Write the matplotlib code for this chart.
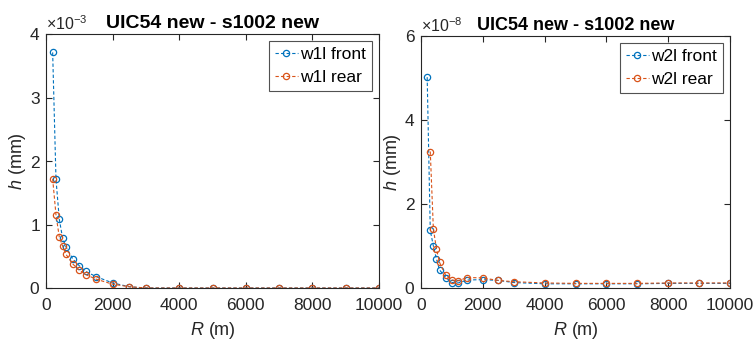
import matplotlib
matplotlib.use("Agg")
import matplotlib.pyplot as plt
import numpy as np
from matplotlib.ticker import ScalarFormatter

plt.rcParams['font.family'] = ['Liberation Sans', 'DejaVu Sans']
plt.rcParams['mathtext.fontset'] = 'custom'
plt.rcParams['mathtext.rm'] = 'Liberation Sans'
plt.rcParams['mathtext.it'] = 'Liberation Sans:italic'

R = [200, 300, 400, 500, 600, 800, 1000, 1200, 1500, 2000, 2500, 3000,
     4000, 5000, 6000, 7000, 8000, 9000, 10000]

# left panel, values in units of 1e-3 mm
w1l_front = [3.71, 1.71, 1.08, 0.78, 0.65, 0.46, 0.35, 0.26, 0.18, 0.08, 0.02, 0.0,
             0.0, 0.0, 0.0, 0.0, 0.0, 0.0, 0.0]
w1l_rear = [1.72, 1.15, 0.80, 0.66, 0.53, 0.38, 0.28, 0.21, 0.14, 0.06, 0.02, 0.0,
            0.0, 0.0, 0.0, 0.0, 0.0, 0.0, 0.0]
# right panel, values in units of 1e-8 mm
w2l_front = [5.02, 1.37, 1.00, 0.69, 0.43, 0.25, 0.13, 0.12, 0.19, 0.20, 0.18, 0.13,
             0.10, 0.10, 0.10, 0.10, 0.11, 0.11, 0.11]
w2l_rear = [np.nan, 3.25, 1.41, 0.93, 0.61, 0.30, 0.19, 0.17, 0.25, 0.24, 0.18, 0.15,
            0.12, 0.11, 0.11, 0.11, 0.12, 0.12, 0.12]

scale_left = 1e-3
scale_right = 1e-8
title = "UIC54 new - s1002 new"
blue = "#0072BD"
orange = "#D95319"

fig = plt.figure(figsize=(7.53, 3.45), dpi=100)
W, H = 753, 345
axL = fig.add_axes([46 / W, 1 - 288 / H, (379 - 46) / W, (288 - 34) / H])
axR = fig.add_axes([421 / W, 1 - 288 / H, (730 - 421) / W, (288 - 36) / H])

def draw(ax, front, rear, scale, lf, lr, ymax, yticks, tsize):
    f = np.array(front, dtype=float) * scale
    r = np.array(rear, dtype=float) * scale
    kw = dict(ls='--', lw=0.8, marker='o', ms=4.5, mfc='none', mew=0.9, dashes=(3, 2))
    ax.plot(R, f, color=blue, label=lf, **kw)
    ax.plot(R, r, color=orange, label=lr, **kw)
    ax.set_xlim(0, 10000)
    ax.set_ylim(0, ymax)
    ax.set_xticks([0, 2000, 4000, 6000, 8000, 10000])
    ax.set_yticks(np.array(yticks) * scale)
    fmt = ScalarFormatter(useMathText=True)
    fmt.set_powerlimits((0, 0))
    ax.yaxis.set_major_formatter(fmt)
    ax.yaxis.get_offset_text().set_fontsize(11.5)
    ax.yaxis.get_offset_text().set_color('#262626')
    ax.tick_params(direction='in', top=True, right=True, labelsize=12.5,
                   colors='#262626', length=4, width=0.8)
    ax.tick_params(axis='x', pad=7)
    ax.tick_params(axis='y', pad=4)
    for s in ax.spines.values():
        s.set_linewidth(0.8)
        s.set_color('#262626')
    ax.set_title(title, fontsize=tsize, fontweight='bold', pad=4)
    ax.set_xlabel(r'$\mathit{R}$ (m)', fontsize=13, color='#262626', labelpad=5)
    ax.set_ylabel(r'$\mathit{h}$ (mm)', fontsize=13, color='#262626', labelpad=1)
    leg = ax.legend(loc='upper right', fontsize=12.5, frameon=True, fancybox=False,
                    edgecolor='#262626', handlelength=1.3, handletextpad=0.15,
                    borderpad=0.35, labelspacing=0.45, borderaxespad=0.4)
    leg.get_frame().set_linewidth(0.8)

draw(axL, w1l_front, w1l_rear, scale_left, 'w1l front', 'w1l rear', 4 * scale_left, [0, 1, 2, 3, 4], 14)
draw(axR, w2l_front, w2l_rear, scale_right, 'w2l front', 'w2l rear', 6 * scale_right, [0, 2, 4, 6], 13)

fig.savefig('out.png', dpi=100)
